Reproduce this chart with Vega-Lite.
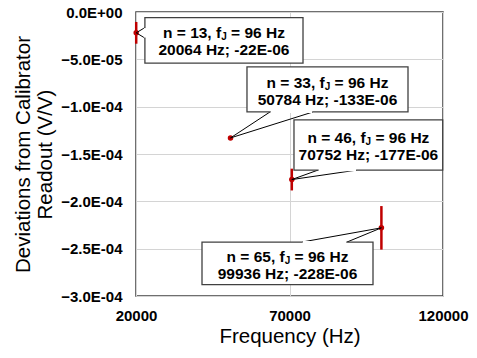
{
  "$schema": "https://vega.github.io/schema/vega-lite/v6.json",
  "width": 307,
  "height": 284,
  "autosize": {"type": "none"},
  "padding": {"left": 136, "top": 12, "right": 34, "bottom": 62},
  "background": "white",
  "config": {
    "font": "Liberation Sans",
    "view": {"stroke": "#404040", "strokeWidth": 1.5},
    "axis": {
      "ticks": false,
      "domain": false,
      "grid": true,
      "gridColor": "#d4d4d4",
      "gridWidth": 1,
      "labelFont": "Liberation Sans",
      "labelFontSize": 15,
      "labelFontWeight": "bold",
      "labelColor": "#000000",
      "labelFlush": false,
      "titleFont": "Liberation Sans",
      "titleFontSize": 20.5,
      "titleFontWeight": "normal",
      "titleColor": "#000000"
    }
  },
  "datasets": {
    "points": [
      {"freq": 20064, "dev": -0.000022, "lo": -0.0000335, "hi": -0.0000105},
      {"freq": 50784, "dev": -0.000133, "lo": -0.000135, "hi": -0.000131},
      {"freq": 70752, "dev": -0.000177, "lo": -0.0001885, "hi": -0.0001655},
      {"freq": 99936, "dev": -0.000228, "lo": -0.000251, "hi": -0.000205}
    ],
    "boxes": [
      {"x1": 22900, "x2": 74400, "y1": -0.000006, "y2": -0.000054, "cx": 48650, "cy": -0.0000301, "t1": "n = 13, f", "t2": "20064 Hz; -22E-06"},
      {"x1": 56150, "x2": 108600, "y1": -0.000058, "y2": -0.0001056, "cx": 82370, "cy": -0.0000819, "t1": "n = 33, f", "t2": "50784 Hz; -133E-06"},
      {"x1": 71460, "x2": 119900, "y1": -0.000114, "y2": -0.000167, "cx": 95700, "cy": -0.0001405, "t1": "n = 46, f", "t2": "70752 Hz; -177E-06"},
      {"x1": 41500, "x2": 97200, "y1": -0.000243, "y2": -0.000288, "cx": 69340, "cy": -0.0002657, "t1": "n = 65, f", "t2": "99936 Hz; -228E-06"}
    ],
    "wedges": [
      {"tx": 20064, "ty": -0.000022, "bx": 22900, "by": -0.0000165},
      {"tx": 20064, "ty": -0.000022, "bx": 22900, "by": -0.0000275},
      {"tx": 50784, "ty": -0.000133, "bx": 63644, "by": -0.0001056},
      {"tx": 50784, "ty": -0.000133, "bx": 77650, "by": -0.0001056},
      {"tx": 70752, "ty": -0.000177, "bx": 79280, "by": -0.000167},
      {"tx": 70752, "ty": -0.000177, "bx": 91980, "by": -0.000167},
      {"tx": 99936, "ty": -0.000228, "bx": 74070, "by": -0.000243},
      {"tx": 99936, "ty": -0.000228, "bx": 88730, "by": -0.000243}
    ],
    "gaps": [
      {"gx1": 22900, "gy1": -0.000017, "gx2": 22900, "gy2": -0.000027},
      {"gx1": 63900, "gy1": -0.0001056, "gx2": 77400, "gy2": -0.0001056},
      {"gx1": 79500, "gy1": -0.000167, "gx2": 91700, "gy2": -0.000167},
      {"gx1": 74300, "gy1": -0.000243, "gx2": 88500, "gy2": -0.000243}
    ]
  },
  "layer": [
    {
      "data": {"name": "points"},
      "mark": {"type": "rule", "color": "#c00000", "strokeWidth": 2.5},
      "encoding": {
        "x": {"field": "freq", "type": "quantitative", "title": "Frequency (Hz)",
              "scale": {"domain": [20000, 120000], "nice": false, "zero": false},
              "axis": {"values": [20000, 70000, 120000], "format": "d", "labelPadding": 12, "titlePadding": 3}},
        "y": {"field": "lo", "type": "quantitative", "title": ["Deviations from Calibrator", "Readout (V/V)"],
              "scale": {"domain": [-0.0003, 0], "nice": false, "zero": false},
              "axis": {"values": [0, -0.00005, -0.0001, -0.00015, -0.0002, -0.00025, -0.0003],
                       "labelExpr": "replace(replace(upper(format(datum.value, '.1e')), 'E-', 'E-0'), 'E+', 'E+0')",
                       "labelPadding": 14, "titlePadding": 5, "titleLineHeight": 22}},
        "y2": {"field": "hi"}
      }
    },
    {
      "data": {"name": "points"},
      "mark": {"type": "point", "filled": true, "color": "#c00000", "size": 30, "opacity": 1},
      "encoding": {
        "x": {"field": "freq", "type": "quantitative", "title": "Frequency (Hz)"},
        "y": {"field": "dev", "type": "quantitative", "title": ["Deviations from Calibrator", "Readout (V/V)"]}
      }
    },
    {
      "data": {"name": "wedges"},
      "mark": {"type": "rule", "color": "#000000", "strokeWidth": 1},
      "encoding": {
        "x": {"field": "tx", "type": "quantitative", "title": "Frequency (Hz)"},
        "y": {"field": "ty", "type": "quantitative", "title": ["Deviations from Calibrator", "Readout (V/V)"]},
        "x2": {"field": "bx"},
        "y2": {"field": "by"}
      }
    },
    {
      "data": {"name": "boxes"},
      "mark": {"type": "rect", "fill": "white", "stroke": "#404040", "strokeWidth": 1.3},
      "encoding": {
        "x": {"field": "x1", "type": "quantitative", "title": "Frequency (Hz)"},
        "x2": {"field": "x2"},
        "y": {"field": "y1", "type": "quantitative", "title": ["Deviations from Calibrator", "Readout (V/V)"]},
        "y2": {"field": "y2"}
      }
    },
    {
      "data": {"name": "gaps"},
      "mark": {"type": "rule", "color": "white", "strokeWidth": 2.2},
      "encoding": {
        "x": {"field": "gx1", "type": "quantitative", "title": "Frequency (Hz)"},
        "y": {"field": "gy1", "type": "quantitative", "title": ["Deviations from Calibrator", "Readout (V/V)"]},
        "x2": {"field": "gx2"},
        "y2": {"field": "gy2"}
      }
    },
    {
      "data": {"name": "boxes"},
      "mark": {"type": "text", "font": "Liberation Sans", "fontWeight": "bold", "fontSize": 15.5, "align": "right", "baseline": "middle", "dx": -2.8, "dy": -7, "color": "#000000"},
      "encoding": {
        "x": {"field": "cx", "type": "quantitative", "title": "Frequency (Hz)"},
        "y": {"field": "cy", "type": "quantitative", "title": ["Deviations from Calibrator", "Readout (V/V)"]},
        "text": {"field": "t1"}
      }
    },
    {
      "data": {"name": "boxes"},
      "mark": {"type": "text", "font": "Liberation Sans", "fontWeight": "bold", "fontSize": 10, "align": "center", "baseline": "middle", "dx": 0, "dy": -3, "color": "#000000", "text": "J"},
      "encoding": {
        "x": {"field": "cx", "type": "quantitative", "title": "Frequency (Hz)"},
        "y": {"field": "cy", "type": "quantitative", "title": ["Deviations from Calibrator", "Readout (V/V)"]}
      }
    },
    {
      "data": {"name": "boxes"},
      "mark": {"type": "text", "font": "Liberation Sans", "fontWeight": "bold", "fontSize": 15.5, "align": "left", "baseline": "middle", "dx": 7.1, "dy": -7, "color": "#000000", "text": "= 96 Hz"},
      "encoding": {
        "x": {"field": "cx", "type": "quantitative", "title": "Frequency (Hz)"},
        "y": {"field": "cy", "type": "quantitative", "title": ["Deviations from Calibrator", "Readout (V/V)"]}
      }
    },
    {
      "data": {"name": "boxes"},
      "mark": {"type": "text", "font": "Liberation Sans", "fontWeight": "bold", "fontSize": 15.5, "align": "center", "baseline": "middle", "dy": 10, "color": "#000000"},
      "encoding": {
        "x": {"field": "cx", "type": "quantitative", "title": "Frequency (Hz)"},
        "y": {"field": "cy", "type": "quantitative", "title": ["Deviations from Calibrator", "Readout (V/V)"]},
        "text": {"field": "t2"}
      }
    }
  ]
}
